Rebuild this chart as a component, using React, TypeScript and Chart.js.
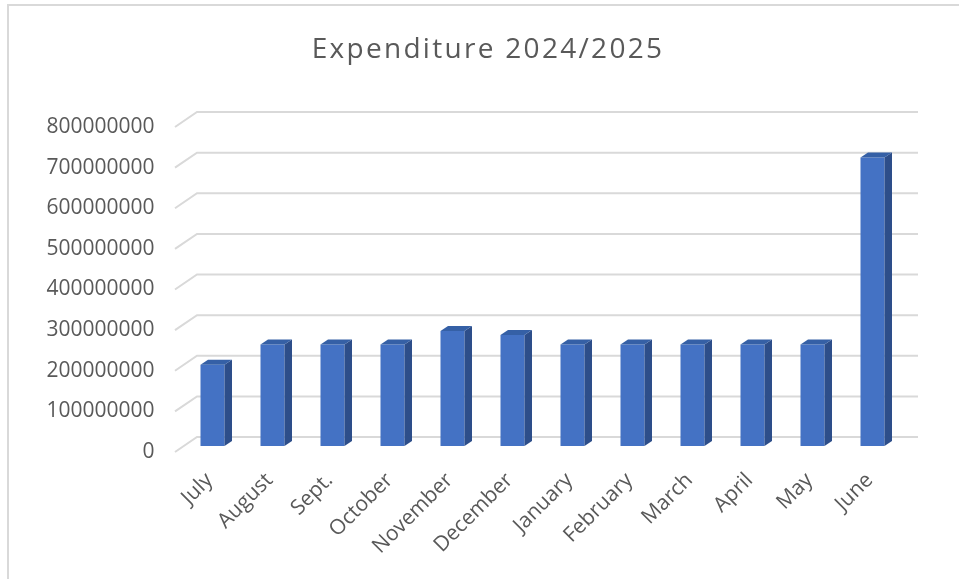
import React, { useEffect, useRef } from "react";
import { Chart, registerables } from "chart.js";

Chart.register(...registerables);

const titleText = "Expenditure 2024/2025";
const months = ["July", "August", "Sept.", "October", "November", "December", "January", "February", "March", "April", "May", "June"];
const expenditure = [200000000, 250000000, 250000000, 250000000, 283000000, 273000000, 250000000, 250000000, 250000000, 250000000, 250000000, 710000000];
const yTickValues = [0, 100000000, 200000000, 300000000, 400000000, 500000000, 600000000, 700000000, 800000000];

const FRONT = "#4472C4";
const SIDE = "#2D4E8A";
const TOP = "#3560A6";
const GRID = "#D9D9D9";
const TEXT = "#595959";

const threeD = {
  id: "threeD",
  beforeDatasetsDraw(chart: any) {
    const { ctx, chartArea: ca } = chart;
    const ys = chart.scales.y;
    ctx.save();
    ctx.strokeStyle = GRID;
    ctx.lineWidth = 2;
    ys.ticks.forEach((t: any) => {
      const py = ys.getPixelForValue(t.value);
      ctx.beginPath();
      ctx.moveTo(ca.left - 7.5, py + 6);
      ctx.lineTo(ca.left + 14.5, py - 9);
      ctx.lineTo(ca.right + 15.5, py - 9);
      ctx.stroke();
    });
    ctx.restore();
  },
  afterDatasetsDraw(chart: any) {
    const { ctx } = chart;
    const meta = chart.getDatasetMeta(0);
    const dx = 7.5;
    const dy = -5;
    ctx.save();
    meta.data.forEach((bar: any) => {
      const { x, y, width, base } = bar.getProps(["x", "y", "width", "base"], true);
      const l = x - width / 2;
      const r = x + width / 2;
      ctx.fillStyle = SIDE;
      ctx.beginPath();
      ctx.moveTo(r, y);
      ctx.lineTo(r + dx, y + dy);
      ctx.lineTo(r + dx, base + dy);
      ctx.lineTo(r, base);
      ctx.closePath();
      ctx.fill();
      ctx.fillStyle = TOP;
      ctx.beginPath();
      ctx.moveTo(l, y);
      ctx.lineTo(l + dx, y + dy);
      ctx.lineTo(r + dx, y + dy);
      ctx.lineTo(r, y);
      ctx.closePath();
      ctx.fill();
    });
    ctx.restore();
  },
  afterDraw(chart: any) {
    const { ctx } = chart;
    ctx.save();
    ctx.fillStyle = TEXT;
    ctx.font = "28px 'Open Sans'";
    try {
      (ctx as any).letterSpacing = "2.3px";
    } catch (e) {}
    ctx.textAlign = "center";
    ctx.textBaseline = "alphabetic";
    ctx.fillText(titleText, 488, 58);
    ctx.restore();
  },
};

export default function App() {
  const ref = useRef<HTMLCanvasElement | null>(null);
  useEffect(() => {
    if (!ref.current) return;
    const chart = new Chart(ref.current, {
      type: "bar",
      data: {
        labels: months,
        datasets: [
          {
            data: expenditure,
            backgroundColor: FRONT,
            borderWidth: 0,
            barPercentage: 0.4,
            categoryPercentage: 1,
          },
        ],
      },
      options: {
        responsive: false,
        animation: false,
        layout: { padding: { top: 121, right: 56.5, left: 0, bottom: 0 } },
        plugins: { legend: { display: false }, title: { display: false }, tooltip: { enabled: false } },
        scales: {
          x: {
            grid: { display: false, drawTicks: false },
            border: { display: false },
            ticks: {
              autoSkip: false,
              minRotation: 45,
              maxRotation: 45,
              padding: 22,
              labelOffset: -3,
              color: TEXT,
              font: { family: "'Open Sans'", size: 21 },
            },
            afterFit(scale: any) {
              scale.height = 133;
            },
          },
          y: {
            min: 0,
            max: 800000000,
            grid: { display: false, drawTicks: false },
            border: { display: false },
            afterBuildTicks(scale: any) {
              scale.ticks = yTickValues.map((v) => ({ value: v }));
            },
            ticks: {
              padding: 28,
              labelOffset: 6,
              color: TEXT,
              font: { family: "'Open Sans'", size: 21 },
              callback: (v: any) => String(v),
            },
            afterFit(scale: any) {
              scale.width = 182.5;
            },
          },
        },
      },
      plugins: [threeD],
    });
    return () => chart.destroy();
  }, []);
  return (
    <div style={{ position: "fixed", left: 0, top: 0, width: 959, height: 579, background: "#fff", overflow: "hidden" }}>
      <div
        style={{
          position: "absolute",
          left: 7,
          top: 4,
          width: 1000,
          height: 1000,
          borderLeft: "2px solid #D9D9D9",
          borderTop: "2px solid #D9D9D9",
        }}
      />
      <canvas ref={ref} width={959} height={579} style={{ position: "absolute", left: 0, top: 0, width: 959, height: 579 }} />
    </div>
  );
}
